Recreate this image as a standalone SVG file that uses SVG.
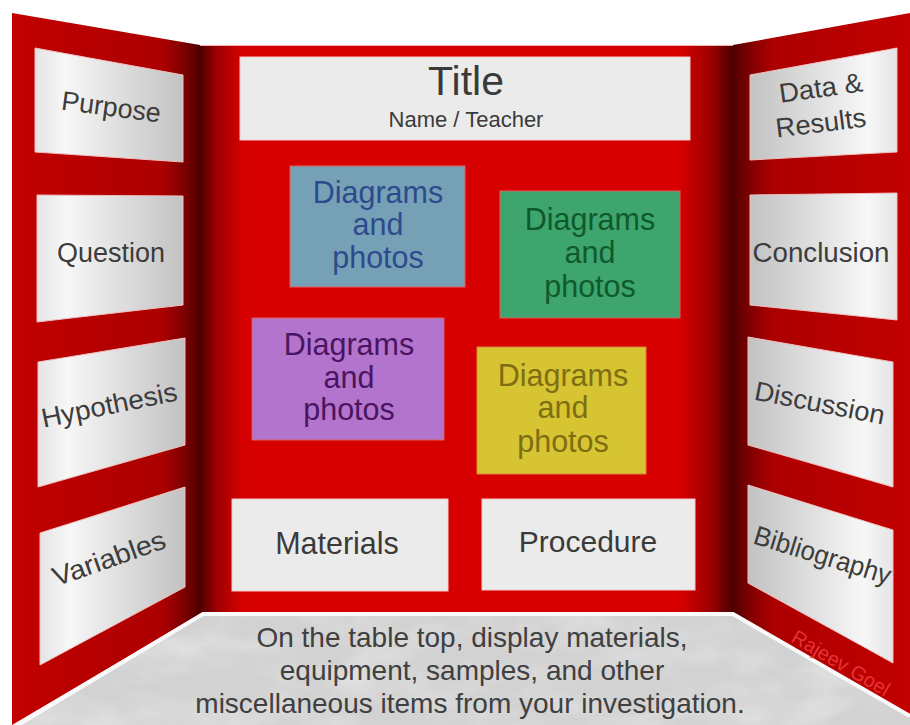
<svg xmlns="http://www.w3.org/2000/svg" width="910" height="725" viewBox="0 0 910 725">
  <defs>
    <linearGradient id="gCenter" x1="200" y1="0" x2="733" y2="0" gradientUnits="userSpaceOnUse">
      <stop offset="0" stop-color="#4a0000"/>
      <stop offset="0.03" stop-color="#9c0000"/>
      <stop offset="0.08" stop-color="#d60000"/>
      <stop offset="0.9" stop-color="#d60000"/>
      <stop offset="0.96" stop-color="#9a0000"/>
      <stop offset="1" stop-color="#4a0000"/>
    </linearGradient>
    <linearGradient id="gLeft" x1="12" y1="0" x2="200" y2="0" gradientUnits="userSpaceOnUse">
      <stop offset="0" stop-color="#c20000"/>
      <stop offset="0.8" stop-color="#ac0000"/>
      <stop offset="0.92" stop-color="#7a0000"/>
      <stop offset="1" stop-color="#4e0000"/>
    </linearGradient>
    <linearGradient id="gRight" x1="733" y1="0" x2="910" y2="0" gradientUnits="userSpaceOnUse">
      <stop offset="0" stop-color="#4e0000"/>
      <stop offset="0.08" stop-color="#7a0000"/>
      <stop offset="0.22" stop-color="#ac0000"/>
      <stop offset="1" stop-color="#c20000"/>
    </linearGradient>
    <linearGradient id="gBoxL" x1="0" y1="0" x2="1" y2="0">
      <stop offset="0" stop-color="#e4e4e4"/>
      <stop offset="0.2" stop-color="#f7f7f7"/>
      <stop offset="1" stop-color="#c2c2c2"/>
    </linearGradient>
    <linearGradient id="gBoxR" x1="0" y1="0" x2="1" y2="0">
      <stop offset="0" stop-color="#c2c2c2"/>
      <stop offset="0.8" stop-color="#f7f7f7"/>
      <stop offset="1" stop-color="#e4e4e4"/>
    </linearGradient>
    <filter id="marble" x="0" y="0" width="100%" height="100%">
      <feTurbulence type="fractalNoise" baseFrequency="0.015 0.03" numOctaves="4" seed="7" result="n"/>
      <feColorMatrix in="n" type="matrix" values="0 0 0 0 1  0 0 0 0 1  0 0 0 0 1  1.4 0 0 0 -0.55" result="w"/>
      <feComposite in="w" in2="SourceGraphic" operator="in"/>
    </filter>
    <style>
      .side { fill: #3c3c3c; font-family: "Liberation Sans", Arial, sans-serif; font-size: 27px; text-anchor: middle; }
      .white { fill: #ebebeb; stroke: #f4c8c8; stroke-width: 1; }
      .lbox { fill: url(#gBoxL); stroke: #f2c0c0; stroke-width: 1; }
      .rbox { fill: url(#gBoxR); stroke: #f2c0c0; stroke-width: 1; }
      .ctr { fill: #3a3a3a; font-family: "Liberation Sans", Arial, sans-serif; text-anchor: middle; }
      .dp { font-family: "Liberation Sans", Arial, sans-serif; font-size: 30.5px; text-anchor: middle; }
      .table { fill: #404040; font-family: "Liberation Sans", Arial, sans-serif; font-size: 28px; text-anchor: middle; }
    </style>
  </defs>

  <rect x="0" y="0" width="910" height="725" fill="#ffffff"/>

  <!-- board panels -->
  <g id="board">
    <polygon points="12,13 200,45 200,614 12,725" fill="url(#gLeft)"/>
    <rect x="200" y="45" width="533" height="569" fill="url(#gCenter)"/>
    <line x1="200" y1="45.5" x2="733" y2="45.5" stroke="#f3b0b0" stroke-width="1"/>
    <polygon points="733,45 910,13 910,725 733,614" fill="url(#gRight)"/>
  </g>

  <!-- table top -->
  <g id="table">
    <polygon points="203,614 733,614 910,716 910,725 18,725" fill="#d2d2d2"/>
    <polygon points="203,614 733,614 910,716 910,725 18,725" fill="#ffffff" filter="url(#marble)" opacity="0.45"/>
    <polyline points="18,725 203,614 733,614 910,716" fill="none" stroke="#fafafa" stroke-width="4"/>
    <text class="table" x="472" y="647">On the table top, display materials,</text>
    <text class="table" x="472" y="680">equipment, samples, and other</text>
    <text class="table" x="470" y="713">miscellaneous items from your investigation.</text>
  </g>

  <!-- left panel labels -->
  <g id="purpose">
    <polygon class="lbox" points="35,48 183,75 183,162 35,152"/>
    <text class="side" x="110" y="116" textLength="100" lengthAdjust="spacingAndGlyphs" transform="rotate(7.5 110 116)">Purpose</text>
  </g>
  <g id="question">
    <polygon class="lbox" points="37,195 183,196 183,305 37,322"/>
    <text class="side" x="111" y="262" textLength="108" lengthAdjust="spacingAndGlyphs">Question</text>
  </g>
  <g id="hypothesis">
    <polygon class="lbox" points="38,362 185,338 185,445 38,487"/>
    <text class="side" x="111" y="414" textLength="138" lengthAdjust="spacingAndGlyphs" transform="rotate(-11.5 111 414)">Hypothesis</text>
  </g>
  <g id="variables">
    <polygon class="lbox" points="40,533 185,487 185,587 40,665"/>
    <text class="side" x="112" y="567" textLength="118" lengthAdjust="spacingAndGlyphs" transform="rotate(-19.4 112 567)">Variables</text>
  </g>

  <!-- right panel labels -->
  <g id="data-results">
    <polygon class="rbox" points="750,75 897,48 897,152 750,160"/>
    <text class="side" x="822" y="97" textLength="84" lengthAdjust="spacingAndGlyphs" transform="rotate(-8 822 97)">Data &amp;</text>
    <text class="side" x="822" y="132" textLength="91" lengthAdjust="spacingAndGlyphs" transform="rotate(-7 822 132)">Results</text>
  </g>
  <g id="conclusion">
    <polygon class="rbox" points="750,195 897,193 897,320 750,305"/>
    <text class="side" x="821" y="262" textLength="137" lengthAdjust="spacingAndGlyphs">Conclusion</text>
  </g>
  <g id="discussion">
    <polygon class="rbox" points="748,337 893,362 893,487 748,445"/>
    <text class="side" x="818" y="412" textLength="132" lengthAdjust="spacingAndGlyphs" transform="rotate(11 818 412)">Discussion</text>
  </g>
  <g id="bibliography">
    <polygon class="rbox" points="748,485 893,530 893,663 748,583"/>
    <text class="side" x="820" y="564" textLength="142" lengthAdjust="spacingAndGlyphs" transform="rotate(17 820 564)">Bibliography</text>
  </g>

  <!-- center panel -->
  <g id="title">
    <rect class="white" x="240" y="57" width="450" height="83"/>
    <text class="ctr" x="466" y="95" font-size="41">Title</text>
    <text class="ctr" x="466" y="127" font-size="22">Name / Teacher</text>
  </g>
  <g id="diagrams-blue">
    <rect x="290" y="166" width="175" height="121" fill="#76a0b6" stroke="#e06060" stroke-width="1"/>
    <text class="dp" fill="#2d4b8c" x="378" y="203">Diagrams</text>
    <text class="dp" fill="#2d4b8c" x="378" y="235">and</text>
    <text class="dp" fill="#2d4b8c" x="378" y="268">photos</text>
  </g>
  <g id="diagrams-green">
    <rect x="500" y="191" width="180" height="127" fill="#3ea56e" stroke="#e06060" stroke-width="1"/>
    <text class="dp" fill="#0f5a2c" x="590" y="230">Diagrams</text>
    <text class="dp" fill="#0f5a2c" x="590" y="263">and</text>
    <text class="dp" fill="#0f5a2c" x="590" y="297">photos</text>
  </g>
  <g id="diagrams-purple">
    <rect x="252" y="318" width="192" height="122" fill="#b274cc" stroke="#e06060" stroke-width="1"/>
    <text class="dp" fill="#4a1462" x="349" y="355">Diagrams</text>
    <text class="dp" fill="#4a1462" x="349" y="388">and</text>
    <text class="dp" fill="#4a1462" x="349" y="420">photos</text>
  </g>
  <g id="diagrams-yellow">
    <rect x="477" y="347" width="169" height="127" fill="#d6c432" stroke="#e08040" stroke-width="1"/>
    <text class="dp" fill="#7e6e12" x="563" y="386">Diagrams</text>
    <text class="dp" fill="#7e6e12" x="563" y="418">and</text>
    <text class="dp" fill="#7e6e12" x="563" y="452">photos</text>
  </g>
  <g id="materials">
    <rect class="white" x="232" y="499" width="216" height="92"/>
    <text class="ctr" x="337" y="554" font-size="30.5">Materials</text>
  </g>
  <g id="procedure">
    <rect class="white" x="482" y="499" width="213" height="91"/>
    <text class="ctr" x="588" y="552" font-size="30">Procedure</text>
  </g>

  <g id="watermark">
    <text x="790" y="641" fill="#f03c3c" fill-opacity="0.85" font-family="'Liberation Sans', Arial, sans-serif" font-size="20" transform="rotate(30.5 790 641)">Rajeev Goel</text>
  </g>
</svg>
